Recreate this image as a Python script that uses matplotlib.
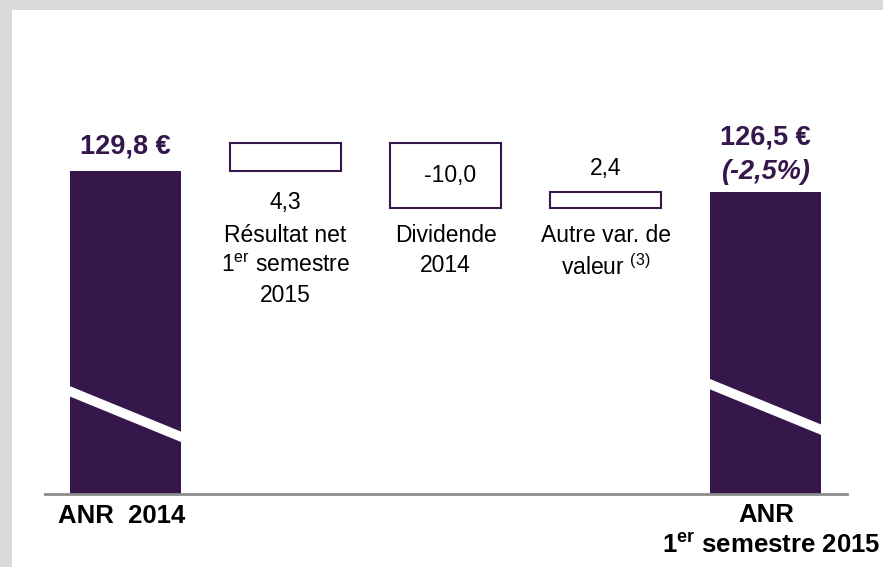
import matplotlib
matplotlib.use("Agg")
import matplotlib.pyplot as plt
from matplotlib.patches import Rectangle, Polygon

plt.rcParams['font.family'] = ['Liberation Sans', 'DejaVu Sans']
plt.rcParams['mathtext.fontset'] = 'custom'
plt.rcParams['mathtext.rm'] = 'Liberation Sans'
plt.rcParams['mathtext.bf'] = 'Liberation Sans:bold'

# donnees
anr_debut = 129.8
variations = [4.3, -10.0, 2.4]
anr_fin = 126.5
var_labels = ["4,3", "-10,0", "2,4"]
var_noms = ["Résultat net\n1$^{\\mathrm{er}}$ semestre\n2015",
            "Dividende\n2014",
            "Autre var. de\nvaleur $^{\\mathrm{(3)}}$"]
debut_txt = "129,8 €"
fin_txt = "126,5 €"
fin_pct = "(-2,5%)"

violet = '#35174c'
gris = '#8c8c8c'

fig = plt.figure(figsize=(8.83, 5.67), dpi=100, facecolor='#d9d9d9')
fig.patches.append(Rectangle((12 / 883, 0), 1, 1 - 10 / 567, transform=fig.transFigure,
                             facecolor='white', edgecolor='none', zorder=-10))

ax = fig.add_axes([45 / 883, 73 / 567, 802 / 883, 394 / 567])
ax.set_facecolor('none')
ax.set_xlim(-0.503, 4.509)
ax.set_ylim(80.11, 140.7)
for s in ['top', 'right', 'left']:
    ax.spines[s].set_visible(False)
ax.spines['bottom'].set_color(gris)
ax.spines['bottom'].set_linewidth(2)
ax.set_xticks([])
ax.set_yticks([])

w = 0.695

# barres pleines
ax.bar([0, 4], [anr_debut, anr_fin], width=w, color=violet, zorder=2)

# barres de variation (cascade)
niveau = anr_debut
for i, v in enumerate(variations):
    ax.bar(i + 1, v, bottom=niveau, width=w, facecolor='white',
           edgecolor=violet, linewidth=1.5, zorder=2)
    niveau += v

# marques de rupture d'axe
coupe_haut = [96.7, 97.8]
for k, x in enumerate([0, 4]):
    y0 = coupe_haut[k]
    pts = [(x - w / 2, y0), (x + w / 2, y0 - 7.0),
           (x + w / 2, y0 - 8.6), (x - w / 2, y0 - 1.6)]
    ax.add_patch(Polygon(pts, closed=True, facecolor='white', edgecolor='none', zorder=3))

# etiquettes
ax.annotate(debut_txt, (0, anr_debut), xytext=(0, 17.5), textcoords='offset points',
            ha='center', va='center', fontsize=19.5, fontweight='bold', color=violet)
ax.annotate(fin_txt, (4, anr_fin), xytext=(0, 39.5), textcoords='offset points',
            ha='center', va='center', fontsize=19.5, fontweight='bold', color=violet)
ax.annotate(fin_pct, (4, anr_fin), xytext=(0, 14.5), textcoords='offset points',
            ha='center', va='center', fontsize=19.5, fontweight='bold', style='italic',
            color=violet)

niveau = anr_debut
for i, v in enumerate(variations):
    bas = min(niveau, niveau + v)
    haut = max(niveau, niveau + v)
    if v > 0 and i == 0:
        ax.annotate(var_labels[i], (i + 1, bas), xytext=(0, -23), textcoords='offset points',
                    ha='center', va='center', fontsize=16.5)
    elif v < 0:
        ax.annotate(var_labels[i], (i + 1, (bas + haut) / 2), xytext=(3, 0),
                    textcoords='offset points', ha='center', va='center', fontsize=16.5)
    else:
        ax.annotate(var_labels[i], (i + 1, haut), xytext=(0, 17), textcoords='offset points',
                    ha='center', va='center', fontsize=16.5)
    ax.text(i + 1, 80.11 + (494 - 224) / 6.5, var_noms[i], ha='center', va='top',
            fontsize=16.5, linespacing=1.38)
    niveau += v

# libelles du bas
fig.text(122 / 883, 1 - 516 / 567, "ANR  2014", ha='center', va='center',
         fontsize=18.5, fontweight='bold')
fig.text(766 / 883, 1 - 515 / 567, "ANR", ha='center', va='center',
         fontsize=18.5, fontweight='bold')
fig.text(880 / 883, 1 - 545 / 567, "1$^{\\mathbf{er}}$ semestre 2015", ha='right',
         va='center', fontsize=18.5, fontweight='bold')

fig.savefig('out.png', dpi=100, facecolor=fig.get_facecolor())
